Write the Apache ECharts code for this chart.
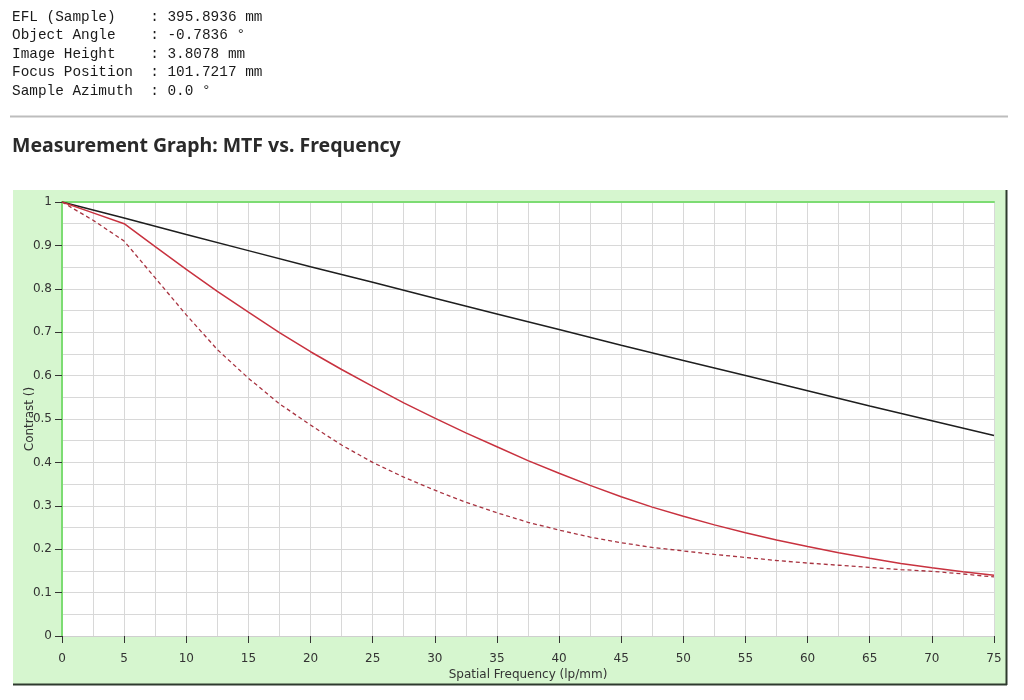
<!DOCTYPE html>
<html>
<head>
<meta charset="utf-8">
<script src="https://cdn.jsdelivr.net/npm/echarts@6/dist/echarts.min.js"></script>
<style>
html,body{margin:0;padding:0;background:#fff;}
#chart{width:1024px;height:700px;}
</style>
</head>
<body>
<div id="chart"></div>
<script>
// ---- data ----
var infoLabels = ['EFL (Sample)', 'Object Angle', 'Image Height', 'Focus Position', 'Sample Azimuth'];
var infoValues = ['395.8936 mm', '-0.7836 °', '3.8078 mm', '101.7217 mm', '0.0 °'];
var chartTitle = 'Measurement Graph: MTF vs. Frequency';
var xName = 'Spatial Frequency (lp/mm)';
var yName = 'Contrast ()';

var freqBlack = [0, 5, 10, 15, 20, 25, 30, 35, 40, 45, 50, 55, 60, 65, 70, 75];
var mtfBlack = [1, 0.963, 0.925, 0.888, 0.851, 0.815, 0.778, 0.742, 0.706, 0.670, 0.635, 0.600, 0.565, 0.530, 0.496, 0.462];

var freqRed = [0, 2.5, 5, 7.5, 10, 12.5, 15, 17.5, 20, 22.5, 25, 27.5, 30, 32.5, 35, 37.5, 40, 42.5, 45, 47.5, 50, 52.5, 55, 57.5, 60, 62.5, 65, 67.5, 70, 72.5, 75];
var mtfRedSolid = [1, 0.975, 0.95, 0.897, 0.845, 0.794, 0.746, 0.699, 0.655, 0.614, 0.575, 0.537, 0.502, 0.468, 0.436, 0.404, 0.375, 0.347, 0.321, 0.297, 0.276, 0.256, 0.238, 0.221, 0.206, 0.192, 0.179, 0.167, 0.157, 0.148, 0.140];
var mtfRedDashed = [1, 0.958, 0.91, 0.825, 0.74, 0.66, 0.594, 0.535, 0.486, 0.44, 0.40, 0.366, 0.336, 0.308, 0.284, 0.262, 0.244, 0.228, 0.215, 0.204, 0.196, 0.188, 0.181, 0.174, 0.168, 0.163, 0.158, 0.153, 0.149, 0.143, 0.136];

function pairs(xs, ys) { return xs.map(function (x, i) { return [x, ys[i]]; }); }
function pad(s, n) { while (s.length < n) s += ' '; return s; }

var chart = echarts.init(document.getElementById('chart'), null, {renderer: 'canvas'});

var graphics = [
  // green panel
  {type: 'rect', z: -10, shape: {x: 13, y: 190, width: 993, height: 494}, style: {fill: '#d6f6cf'}},
  {type: 'line', z: -9, shape: {x1: 13, y1: 684.5, x2: 1007, y2: 684.5}, style: {stroke: '#2e3a2e', lineWidth: 2}},
  {type: 'line', z: -9, shape: {x1: 1006.5, y1: 190, x2: 1006.5, y2: 685}, style: {stroke: '#2e3a2e', lineWidth: 2}},
  // separator
  {type: 'line', shape: {x1: 10, y1: 116.5, x2: 1008, y2: 116.5}, style: {stroke: '#bdbdbd', lineWidth: 2}}
];
infoLabels.forEach(function (lab, i) {
  graphics.push({
    type: 'text', left: 12, top: 10 + i * 18.5,
    style: {text: pad(lab, 16) + ': ' + infoValues[i], font: '14.4px "Liberation Mono", "DejaVu Sans Mono", monospace', fill: '#1a1a1a'}
  });
});

var option = {
  animation: false,
  backgroundColor: '#ffffff',
  title: {
    text: chartTitle, left: 7, top: 131,
    textStyle: {fontFamily: '"Noto Sans", sans-serif', fontWeight: 'bold', fontSize: 19.5, color: '#2a2a2a'}
  },
  graphic: graphics,
  grid: {left: 62, right: 30, top: 202, bottom: 64, show: true, backgroundColor: '#ffffff', borderWidth: 0},
  xAxis: [{
    type: 'value', min: 0, max: 75, interval: 5,
    name: xName, nameLocation: 'middle', nameGap: 33, nameMoveOverlap: false,
    nameTextStyle: {fontFamily: '"DejaVu Sans", sans-serif', fontSize: 12, color: '#333'},
    axisLine: {show: true, lineStyle: {color: '#cfcfcf', width: 1}},
    axisTick: {show: true, length: 7, lineStyle: {color: '#333'}},
    axisLabel: {margin: 17, fontFamily: '"DejaVu Sans", sans-serif', fontSize: 12, color: '#333'},
    splitLine: {show: true, lineStyle: {color: '#d8d8d8', width: 1}},
    minorTick: {show: false, splitNumber: 2},
    minorSplitLine: {show: true, lineStyle: {color: '#d8d8d8', width: 1}}
  }, {
    type: 'value', position: 'top', min: 0, max: 75,
    axisLine: {show: true, onZero: false, lineStyle: {color: '#7ddc73', width: 2}},
    axisTick: {show: false}, axisLabel: {show: false}, splitLine: {show: false}
  }],
  yAxis: {
    type: 'value', min: 0, max: 1, interval: 0.1,
    name: yName, nameLocation: 'middle', nameGap: 26, nameRotate: 90, nameMoveOverlap: false,
    nameTextStyle: {fontFamily: '"DejaVu Sans", sans-serif', fontSize: 12, color: '#333'},
    axisLine: {show: true, lineStyle: {color: '#7ddc73', width: 2}},
    axisTick: {show: true, length: 7, lineStyle: {color: '#333'}},
    axisLabel: {margin: 10, fontFamily: '"DejaVu Sans", sans-serif', fontSize: 12, color: '#333',
      formatter: function (v) { return String(Math.round(v * 10) / 10); }},
    splitLine: {show: true, lineStyle: {color: '#d8d8d8', width: 1}},
    minorTick: {show: false, splitNumber: 2},
    minorSplitLine: {show: true, lineStyle: {color: '#d8d8d8', width: 1}}
  },
  series: [
    {type: 'line', name: 'Diffraction', data: pairs(freqBlack, mtfBlack), showSymbol: false,
      lineStyle: {color: '#1e1e1e', width: 1.5}, z: 3},
    {type: 'line', name: 'Sagittal', data: pairs(freqRed, mtfRedSolid), showSymbol: false,
      lineStyle: {color: '#c8323f', width: 1.5}, z: 4},
    {type: 'line', name: 'Tangential', data: pairs(freqRed, mtfRedDashed), showSymbol: false,
      lineStyle: {color: '#a83340', width: 1.3, type: [4, 3]}, z: 4}
  ]
};
chart.setOption(option);
</script>
</body>
</html>
